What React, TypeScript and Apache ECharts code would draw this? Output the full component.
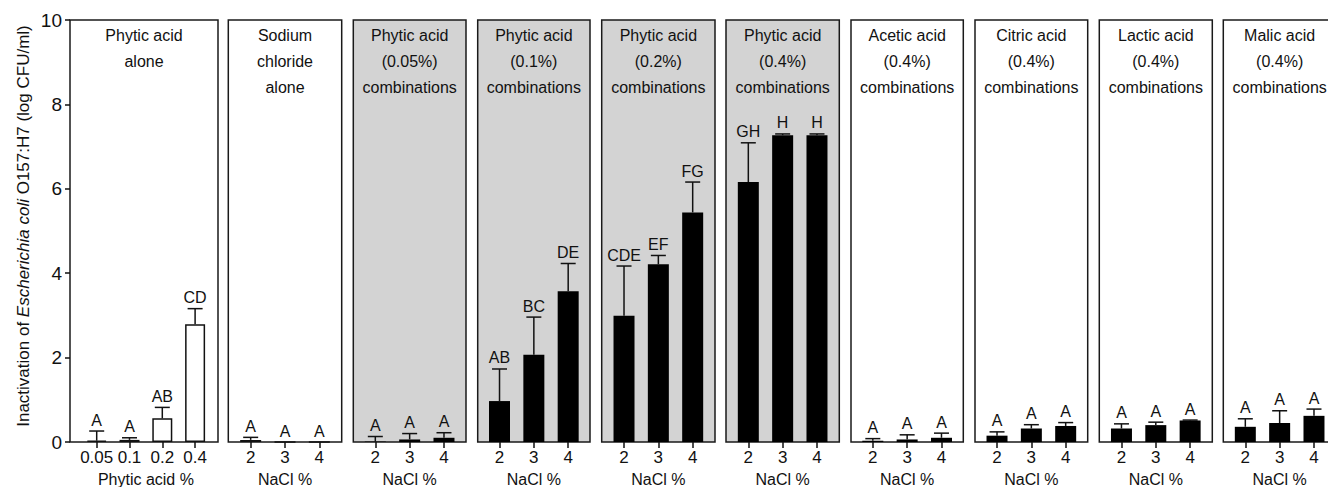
import React, { useEffect, useRef } from "react";
import * as echarts from "echarts";

const FONT = "'Liberation Sans', Arial, sans-serif";

// ---- data ----
const panelTitles = [
  "Phytic acid\nalone",
  "Sodium\nchloride\nalone",
  "Phytic acid\n(0.05%)\ncombinations",
  "Phytic acid\n(0.1%)\ncombinations",
  "Phytic acid\n(0.2%)\ncombinations",
  "Phytic acid\n(0.4%)\ncombinations",
  "Acetic acid\n(0.4%)\ncombinations",
  "Citric acid\n(0.4%)\ncombinations",
  "Lactic acid\n(0.4%)\ncombinations",
  "Malic acid\n(0.4%)\ncombinations",
];
const xAxisNames = ["Phytic acid %", "NaCl %", "NaCl %", "NaCl %", "NaCl %", "NaCl %", "NaCl %", "NaCl %", "NaCl %", "NaCl %"];
const phyticCats = ["0.05", "0.1", "0.2", "0.4"];
const naclCats = ["2", "3", "4"];
const yTicks = [0, 2, 4, 6, 8, 10];

const phyticAloneMean = [0.03, 0.05, 0.56, 2.79];
const phyticAloneUpper = [0.26, 0.1, 0.82, 3.16];
const phyticAloneLetters = ["A", "A", "AB", "CD"];

const naclAloneMean = [0.05, 0, 0];
const naclAloneUpper = [0.11, 0, 0];
const naclAloneLetters = ["A", "A", "A"];

const pa005Mean = [0.01, 0.06, 0.1];
const pa005Upper = [0.13, 0.2, 0.22];
const pa005Letters = ["A", "A", "A"];

const pa01Mean = [0.97, 2.07, 3.57];
const pa01Upper = [1.73, 2.96, 4.23];
const pa01Letters = ["AB", "BC", "DE"];

const pa02Mean = [2.99, 4.21, 5.44];
const pa02Upper = [4.17, 4.42, 6.16];
const pa02Letters = ["CDE", "EF", "FG"];

const pa04Mean = [6.16, 7.27, 7.27];
const pa04Upper = [7.09, 7.3, 7.3];
const pa04Letters = ["GH", "H", "H"];

const aceticMean = [0.03, 0.06, 0.1];
const aceticUpper = [0.08, 0.17, 0.21];
const aceticLetters = ["A", "A", "A"];

const citricMean = [0.15, 0.32, 0.38];
const citricUpper = [0.24, 0.41, 0.46];
const citricLetters = ["A", "A", "A"];

const lacticMean = [0.32, 0.4, 0.51];
const lacticUpper = [0.43, 0.47, 0.52];
const lacticLetters = ["A", "A", "A"];

const malicMean = [0.36, 0.45, 0.62];
const malicUpper = [0.55, 0.74, 0.78];
const malicLetters = ["A", "A", "A"];

const panels = [
  { cats: phyticCats, mean: phyticAloneMean, upper: phyticAloneUpper, letters: phyticAloneLetters },
  { cats: naclCats, mean: naclAloneMean, upper: naclAloneUpper, letters: naclAloneLetters },
  { cats: naclCats, mean: pa005Mean, upper: pa005Upper, letters: pa005Letters },
  { cats: naclCats, mean: pa01Mean, upper: pa01Upper, letters: pa01Letters },
  { cats: naclCats, mean: pa02Mean, upper: pa02Upper, letters: pa02Letters },
  { cats: naclCats, mean: pa04Mean, upper: pa04Upper, letters: pa04Letters },
  { cats: naclCats, mean: aceticMean, upper: aceticUpper, letters: aceticLetters },
  { cats: naclCats, mean: citricMean, upper: citricUpper, letters: citricLetters },
  { cats: naclCats, mean: lacticMean, upper: lacticUpper, letters: lacticLetters },
  { cats: naclCats, mean: malicMean, upper: malicUpper, letters: malicLetters },
];

// ---- layout ----
const frameEdges: [number, number][] = [
  [70, 218],
  [228.3, 341.7],
  [353.3, 466],
  [477.7, 590],
  [601.7, 715],
  [726, 839.3],
  [851, 963.3],
  [975, 1087.7],
  [1099.3, 1212.3],
  [1223.3, 1336],
];
const shaded = [false, false, true, true, true, true, false, false, false, false];
const whiteBars = [true, true, false, false, false, false, false, false, false, false];
const TOP = 20;
const HEIGHT = 422;
const INK = "#111";

function buildOption() {
  const grid: any[] = [];
  const xAxis: any[] = [];
  const yAxis: any[] = [];
  const series: any[] = [];
  const title: any[] = [];

  // frame grids
  frameEdges.forEach(([l, r], i) => {
    grid.push({
      left: l,
      width: r - l,
      top: TOP,
      height: HEIGHT,
      show: true,
      containLabel: false,
      outerBoundsMode: "none",
      borderColor: "#1a1a1a",
      borderWidth: 1.5,
      backgroundColor: shaded[i] ? "#d3d3d3" : "#ffffff",
      z: 0,
    });
    xAxis.push({ gridIndex: i, type: "value", show: false, min: 0, max: 1 });
    yAxis.push({
      gridIndex: i,
      type: "value",
      min: 0,
      max: 10,
      interval: 2,
      show: i === 0,
      axisLine: { show: false },
      axisTick: { show: true, length: 5, lineStyle: { color: INK, width: 1.5 } },
      axisLabel: { fontSize: 19, color: INK, fontFamily: FONT, margin: 8, customValues: yTicks },
      splitLine: { show: false },
    });
    title.push({
      text: panelTitles[i],
      left: (l + r) / 2,
      top: 22,
      textAlign: "center",
      padding: 0,
      textStyle: { fontSize: 16, fontWeight: "normal", lineHeight: 26, color: INK, fontFamily: FONT },
    });
  });

  // data grids
  frameEdges.forEach(([l, r], i) => {
    const p = panels[i];
    const gi = 10 + i;
    let left: number, width: number;
    if (i === 0) {
      left = 80.3;
      width = 131.2;
    } else {
      width = 103;
      left = (l + r) / 2 - width / 2;
    }
    grid.push({ left, width, top: TOP, height: HEIGHT, show: false, containLabel: false, outerBoundsMode: "none" });
    xAxis.push({
      gridIndex: gi,
      type: "category",
      data: p.cats,
      axisLine: { show: false },
      axisTick: { show: true, alignWithLabel: true, interval: 0, length: 6, lineStyle: { color: INK, width: 1.5 } },
      axisLabel: { interval: 0, fontSize: 17, color: INK, fontFamily: FONT, margin: 7 },
      splitLine: { show: false },
      name: xAxisNames[i],
      nameLocation: "middle",
      nameGap: 29,
      nameTextStyle: { fontSize: 16, color: INK, fontFamily: FONT },
    });
    yAxis.push({ gridIndex: gi, type: "value", min: 0, max: 10, show: false, splitLine: { show: false } });

    series.push({
      type: "bar",
      xAxisIndex: gi,
      yAxisIndex: gi,
      data: p.mean,
      barWidth: i === 0 ? 20 : 21,
      z: 2,
      itemStyle: whiteBars[i]
        ? { color: "#ffffff", borderColor: INK, borderWidth: 1.5 }
        : { color: "#000000" },
    });

    const letters = p.letters;
    series.push({
      type: "custom",
      xAxisIndex: gi,
      yAxisIndex: gi,
      z: 3,
      data: p.mean.map((m, k) => [k, m, p.upper[k]]),
      renderItem: (params: any, api: any) => {
        const x = api.value(0);
        const m = api.value(1);
        const u = api.value(2);
        const pm = api.coord([x, m]);
        const pu = api.coord([x, u]);
        const children: any[] = [];
        const ls = { stroke: INK, lineWidth: 1.5 };
        if (u > m) {
          children.push({ type: "line", shape: { x1: pm[0], y1: pm[1], x2: pu[0], y2: pu[1] }, style: ls });
          children.push({ type: "line", shape: { x1: pu[0] - 7.5, y1: pu[1], x2: pu[0] + 7.5, y2: pu[1] }, style: ls });
        }
        children.push({
          type: "text",
          style: {
            text: letters[params.dataIndex],
            x: pu[0],
            y: pu[1] - 3,
            align: "center",
            verticalAlign: "bottom",
            textAlign: "center",
            textVerticalAlign: "bottom",
            fontSize: 16,
            fontFamily: FONT,
            fill: INK,
          },
        });
        return { type: "group", children };
      },
    });
  });

  return {
    animation: false,
    backgroundColor: "#ffffff",
    title,
    grid,
    xAxis,
    yAxis,
    series,
    graphic: [
      {
        type: "text",
        x: 23,
        y: 226,
        rotation: Math.PI / 2,
        style: {
          text: "Inactivation of {i|Escherichia coli} O157:H7 (log CFU/ml)",
          rich: { i: { fontStyle: "italic", fontSize: 17, fontFamily: FONT, fill: INK } },
          fontSize: 17,
          fontFamily: FONT,
          fill: INK,
          align: "center",
          verticalAlign: "middle",
          textAlign: "center",
          textVerticalAlign: "middle",
        },
      },
    ],
  };
}

export default function App() {
  const ref = useRef<HTMLDivElement>(null);
  useEffect(() => {
    if (!ref.current) return;
    const chart = echarts.init(ref.current, undefined, { renderer: "svg" });
    chart.setOption(buildOption() as any);
    return () => chart.dispose();
  }, []);
  return (
    <div
      ref={ref}
      style={{ position: "absolute", left: 0, top: 0, width: 1328, height: 487, background: "#fff" }}
    />
  );
}
